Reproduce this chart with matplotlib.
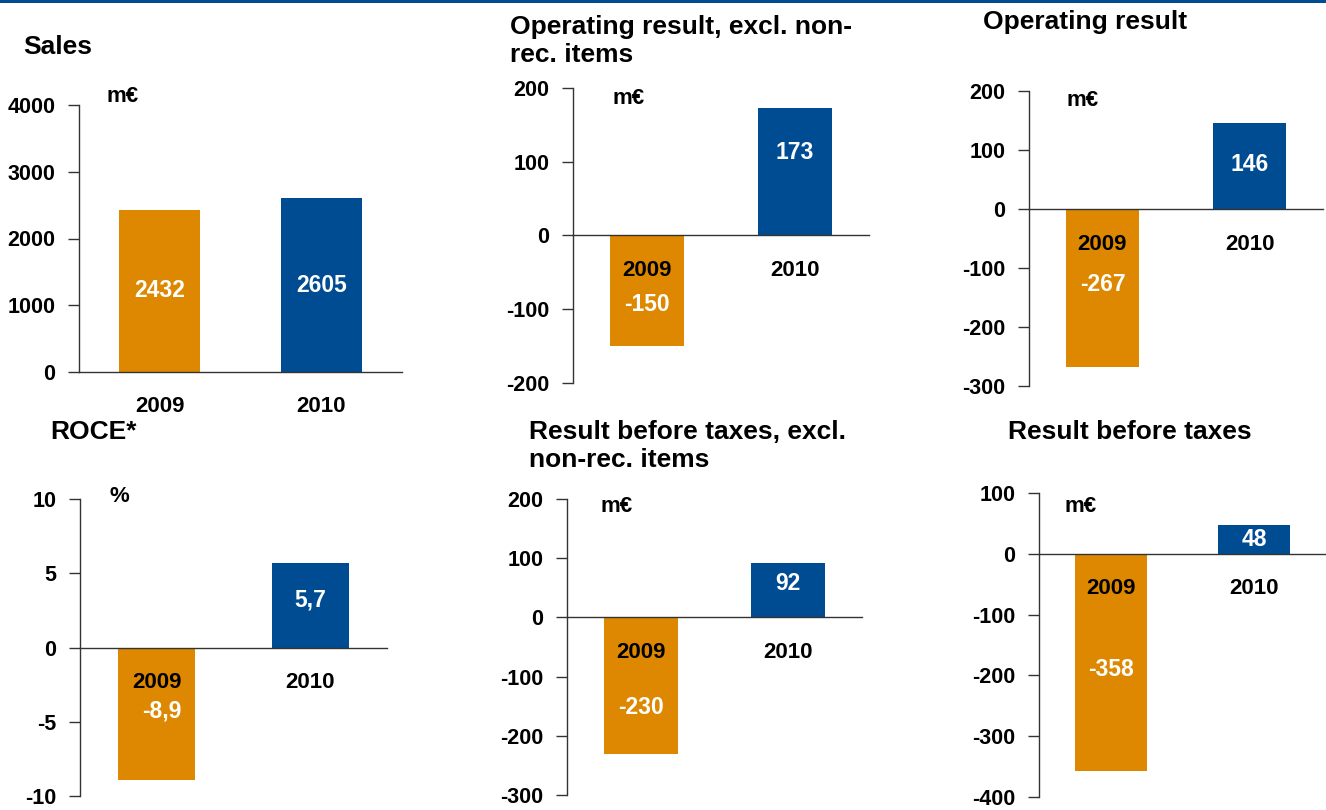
import matplotlib
matplotlib.use("Agg")
import matplotlib.pyplot as plt

plt.rcParams['font.family'] = ['Liberation Sans', 'DejaVu Sans']
plt.rcParams['font.weight'] = 'bold'

# ---- data ----
years = ["2009", "2010"]
titles = ["Sales", "Operating result, excl. non-\nrec. items", "Operating result",
          "ROCE*", "Result before taxes, excl.\nnon-rec. items", "Result before taxes"]
units = ["m€", "m€", "m€", "%", "m€", "m€"]
sales = [2432, 2605]
op_excl = [-150, 173]
op_result = [-267, 146]
roce = [-8.9, 5.7]
rbt_excl = [-230, 92]
rbt = [-358, 48]
value_labels = [["2432", "2605"], ["-150", "173"], ["-267", "146"],
                ["-8,9", "5,7"], ["-230", "92"], ["-358", "48"]]
yticks = [[0, 1000, 2000, 3000, 4000], [-200, -100, 0, 100, 200],
          [-300, -200, -100, 0, 100, 200], [-10, -5, 0, 5, 10],
          [-300, -200, -100, 0, 100, 200], [-400, -300, -200, -100, 0, 100]]
series = [sales, op_excl, op_result, roce, rbt_excl, rbt]

# ---- layout (pixels) ----
W, H = 1326, 810
ORANGE = '#DD8800'
BLUE = '#004C93'
AXC = '#333333'
# axes rect: left, top, right, bottom
rects = [(79, 105, 402, 372), (573, 88, 869, 383), (1029, 91, 1323, 386),
         (80, 499, 387, 796), (567, 499, 862, 795), (1039, 493, 1326, 797)]
title_pos = [(23, 47), (510, 41), (983, 22), (50, 432), (529, 446), (1008, 432)]
unit_pos = [(107, 97), (612, 98), (1067, 100), (110, 496), (601, 506), (1064, 506)]
label_frac = [[0.5, 0.5], [0.62, 0.65], [0.48, 0.52], [0.48, 0.56], [0.66, 0.62], [0.53, 0.48]]
label_dx = [[0, 0], [0, 0], [0, 0], [5, 0], [0, 0], [0, 0]]

fig = plt.figure(figsize=(W / 100, H / 100), dpi=100)
fig.patch.set_facecolor('white')

# top blue band
fig.add_artist(plt.Rectangle((0, 1 - 3 / H), 1, 3 / H, transform=fig.transFigure,
                             color=BLUE, lw=0))

for i, vals in enumerate(series):
    l, t, r, b = rects[i]
    ax = fig.add_axes([l / W, 1 - b / H, (r - l) / W, (b - t) / H])
    ax.set_facecolor('none')
    ax.bar([0, 1], vals, width=0.5, color=[ORANGE, BLUE], zorder=2)
    ax.set_xlim(-0.5, 1.5)
    ax.set_ylim(yticks[i][0], yticks[i][-1])
    ax.set_yticks(yticks[i])
    ax.set_yticklabels([str(v) for v in yticks[i]], fontsize=15.5, fontweight='bold')
    ax.set_xticks([])
    for s in ['top', 'right', 'bottom']:
        ax.spines[s].set_visible(False)
    ax.spines['left'].set_color(AXC)
    ax.spines['left'].set_linewidth(1.0)
    ax.tick_params(axis='y', length=8, width=1.0, color=AXC, pad=9, direction='out')
    ax.axhline(0, color=AXC, lw=1.0, zorder=3, xmin=0, xmax=1, clip_on=False)
    for j, v in enumerate(vals):
        ax.annotate(years[j], xy=(j, 0), xytext=(0, -35), textcoords='offset pixels',
                    ha='center', va='center', fontsize=16, fontweight='bold', color='black',
                    zorder=4)
        ax.annotate(value_labels[i][j], xy=(j, v * label_frac[i][j]),
                    xytext=(label_dx[i][j], 0), textcoords='offset pixels',
                    ha='center', va='center', fontsize=16.5, fontweight='bold',
                    color='white', zorder=4)
    tx, ty = title_pos[i]
    fig.text(tx / W, 1 - ty / H, titles[i], ha='left', va='center', fontsize=19,
             fontweight='bold', linespacing=1.25)
    ux, uy = unit_pos[i]
    fig.text(ux / W, 1 - uy / H, units[i], ha='left', va='center', fontsize=16,
             fontweight='bold')

fig.savefig('out.png', dpi=100, facecolor='white')
